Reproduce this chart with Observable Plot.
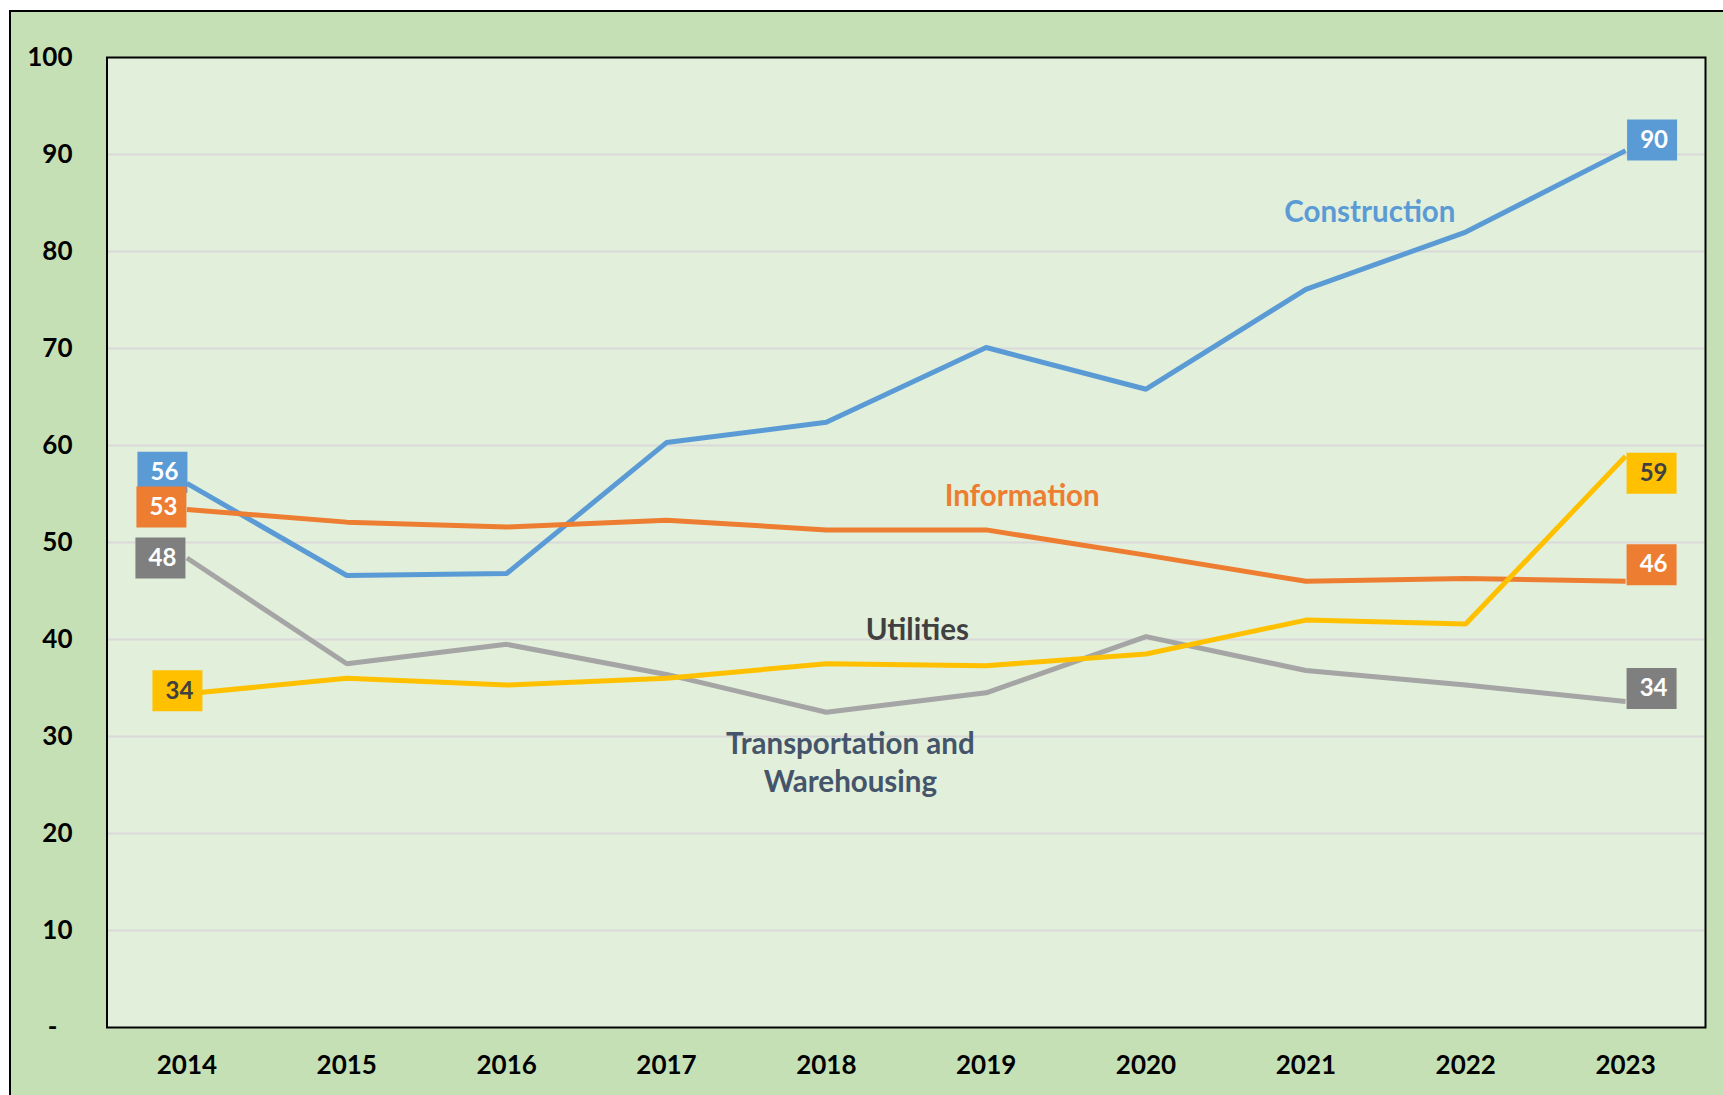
<!DOCTYPE html>
<html>
<head>
<meta charset="utf-8">
<script src="https://cdn.jsdelivr.net/npm/d3@7"></script>
<script src="https://cdn.jsdelivr.net/npm/@observablehq/plot@0.6"></script>
<style>
  html, body { margin: 0; padding: 0; background: #ffffff; overflow: hidden; width: 1723px; height: 1095px; }
  #outer { position: absolute; left: 9px; top: 10px; width: 1800px; height: 1200px; background: #C5E0B4;
           border-left: 2px solid #000; border-top: 2px solid #000; box-sizing: border-box; }
  #chart { position: absolute; left: 0; top: 0; }
  #chart svg g[aria-label$="tick label"] { font-weight: 700; font-size: 26px; }
</style>
</head>
<body>
<div id="outer"></div>
<div id="chart"></div>
<script>
// ---- Data ----
const years = ["2014", "2015", "2016", "2017", "2018", "2019", "2020", "2021", "2022", "2023"];
const construction   = [56.1, 46.6, 46.8, 60.3, 62.4, 70.1, 65.8, 76.1, 82.0, 90.4];
const information    = [53.4, 52.1, 51.6, 52.3, 51.3, 51.3, 48.7, 46.0, 46.3, 46.0];
const transportation = [48.4, 37.5, 39.5, 36.4, 32.5, 34.5, 40.3, 36.8, 35.3, 33.6];
const utilities      = [34.4, 36.0, 35.3, 36.0, 37.5, 37.3, 38.5, 42.0, 41.6, 58.9];
const seriesNames = ["Construction", "Information", "Transportation and Warehousing", "Utilities"];
const seriesValues = [construction, information, transportation, utilities];
const yTicks = [0, 10, 20, 30, 40, 50, 60, 70, 80, 90, 100];

// ---- Styles ----
const lineColors = ["#5B9BD5", "#ED7D31", "#A5A5A5", "#FFC000"];
const boxColors  = ["#5B9BD5", "#ED7D31", "#7F7F7F", "#FFC000"];
const boxText    = ["#FFFFFF", "#FFFFFF", "#FFFFFF", "#404040"];
const nameColors = ["#5B9BD5", "#ED7D31", "#44546A", "#404040"];
// label box offsets (px) relative to first / last point
const startOffsets = [[-24.5, -11], [-25.5, -2.5], [-26.5, 0], [-9.5, -3]];
const endOffsets   = [[26.5, -10.5], [26, -16.5], [26, -13], [26, 17]];
// series name annotation anchors
const nameAnchors = [
  {year: "2021", value: 84.3, dx: 64},
  {year: "2019", value: 55.0, dx: 36},
  {year: "2018", value: 27.5, dx: 24},
  {year: "2018", value: 41.2, dx: 91}
];
const nameText = ["Construction", "Information", "Transportation and\nWarehousing", "Utilities"];

const rows = seriesNames.flatMap((s, i) => years.map((y, j) => ({series: s, year: y, value: seriesValues[i][j], idx: i})));

const boxSymbol = {
  draw(context) {
    const w = 50, h = 41;
    context.moveTo(-w / 2, -h / 2);
    context.lineTo(w / 2, -h / 2);
    context.lineTo(w / 2, h / 2);
    context.lineTo(-w / 2, h / 2);
    context.closePath();
  }
};

const font = "Lato, 'Open Sans', sans-serif";

const marks = [
  Plot.frame({fill: "#E2EFDA", stroke: "none"}),
  Plot.gridY(yTicks.filter(d => d > 0 && d < 100), {stroke: "#D9D9D9", strokeOpacity: 1, strokeWidth: 2}),
  Plot.axisY(yTicks, {
    tickSize: 0, tickPadding: 34.5, fontSize: 26, label: null,
    tickFormat: d => d === 0 ? "-\u2007" : String(d)
  }),
  Plot.axisX({tickSize: 0, tickPadding: 28, fontSize: 26, label: null}),
  ...seriesNames.map((s, i) => Plot.line(rows.filter(r => r.idx === i), {
    x: "year", y: "value", stroke: lineColors[i], strokeWidth: 5, strokeLinejoin: "miter", strokeLinecap: "butt"
  })),
  ...seriesNames.flatMap((s, i) => {
    const first = [rows.find(r => r.idx === i && r.year === years[0])];
    const last = [rows.find(r => r.idx === i && r.year === years[years.length - 1])];
    return [[first, startOffsets[i]], [last, endOffsets[i]]].flatMap(([d, [dx, dy]]) => [
      Plot.dot(d, {x: "year", y: "value", dx, dy, r: 5, symbol: boxSymbol, fill: boxColors[i], stroke: "none"}),
      Plot.text(d, {x: "year", y: "value", dx: dx + 2, dy, text: r => String(Math.round(r.value)),
        fill: boxText[i], fontSize: 24, fontWeight: "bold", fontFamily: font})
    ]);
  }),
  ...nameAnchors.map((a, i) => Plot.text([a], {
    x: "year", y: "value", dx: a.dx, text: () => nameText[i], fill: nameColors[i],
    fontSize: 29.5, fontWeight: "bold", fontFamily: font, lineHeight: 1.3
  })),
  Plot.frame({stroke: "#000", strokeWidth: 2, fill: "none"})
];

const chart = Plot.plot({
  width: 1723,
  height: 1095,
  marginLeft: 106.5,
  marginRight: 18,
  marginTop: 57,
  marginBottom: 68,
  style: {background: "transparent", fontFamily: font, color: "#000", fontSize: "24px", overflow: "visible"},
  x: {type: "point", domain: years, padding: 0.5, round: false},
  y: {domain: [0, 100]},
  marks
});
document.getElementById("chart").appendChild(chart);
</script>
</body>
</html>
